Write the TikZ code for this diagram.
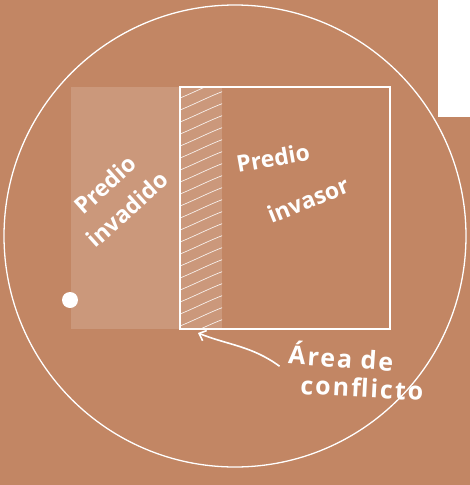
\documentclass[tikz,border=0pt]{standalone}
\usepackage{fontspec}
\setmainfont{Open Sans}
\usepackage{tikz}
\usetikzlibrary{arrows.meta}
\definecolor{terra}{RGB}{194,134,100}

\tikzset{
  linea/.style={white,line width=1.3pt},
  rotulo/.style={white,inner sep=0pt,font=\fontsize{23}{33}\selectfont\bfseries},
  nota/.style={rotulo,font=\fontsize{25}{28}\selectfont\bfseries\addfontfeature{LetterSpace=8}},
  rayas/.style={white,line width=0.7pt,opacity=0.85}
}

\begin{document}
\begin{tikzpicture}[x=1pt,y=-1pt]
  % fondo y marco
  \fill[terra] (0,0) rectangle (470,485);
  \useasboundingbox (0,0) rectangle (470,485);
  \draw[linea] (235,236) circle (231);
  % predio invadido
  \fill[white,opacity=0.15] (71,87) rectangle (222,329);
  % area de conflicto (rayado)
  \begin{scope}
    \clip (180,87) rectangle (222,329);
    \foreach \y in {98,110,...,350}
      \draw[rayas] (180,\y) .. controls (195,\y-6) and (210,\y-14) .. (224,\y-19);
  \end{scope}
  % predio invasor
  \draw[linea] (180,87) rectangle (390,329);
  \fill[white] (70,300) circle (8);
  \node[rotulo,rotate=42,align=center] (inv1) at (116,197) {Predio\\invadido};
  \node[rotulo,rotate=10] (pre2) at (273,158) {Predio};
  \node[rotulo,rotate=22] (inv2) at (308,200) {invasor};
  \node[nota,rotate=-4] (area) at (341,356) {Área de};
  \node[nota,rotate=-3] (conf) at (362,388) {conflicto};
  \coordinate (punta) at (198,333);
  \draw[linea,line width=1.6pt,-{Straight Barb[length=6pt,width=11pt]}] ([xshift=-8pt,yshift=-2pt]area.south west) .. controls (252,346) and (228,345) .. (punta);
  % recuadro blanco
  \fill[white] (438,0) rectangle (470,117);
\end{tikzpicture}
\end{document}
